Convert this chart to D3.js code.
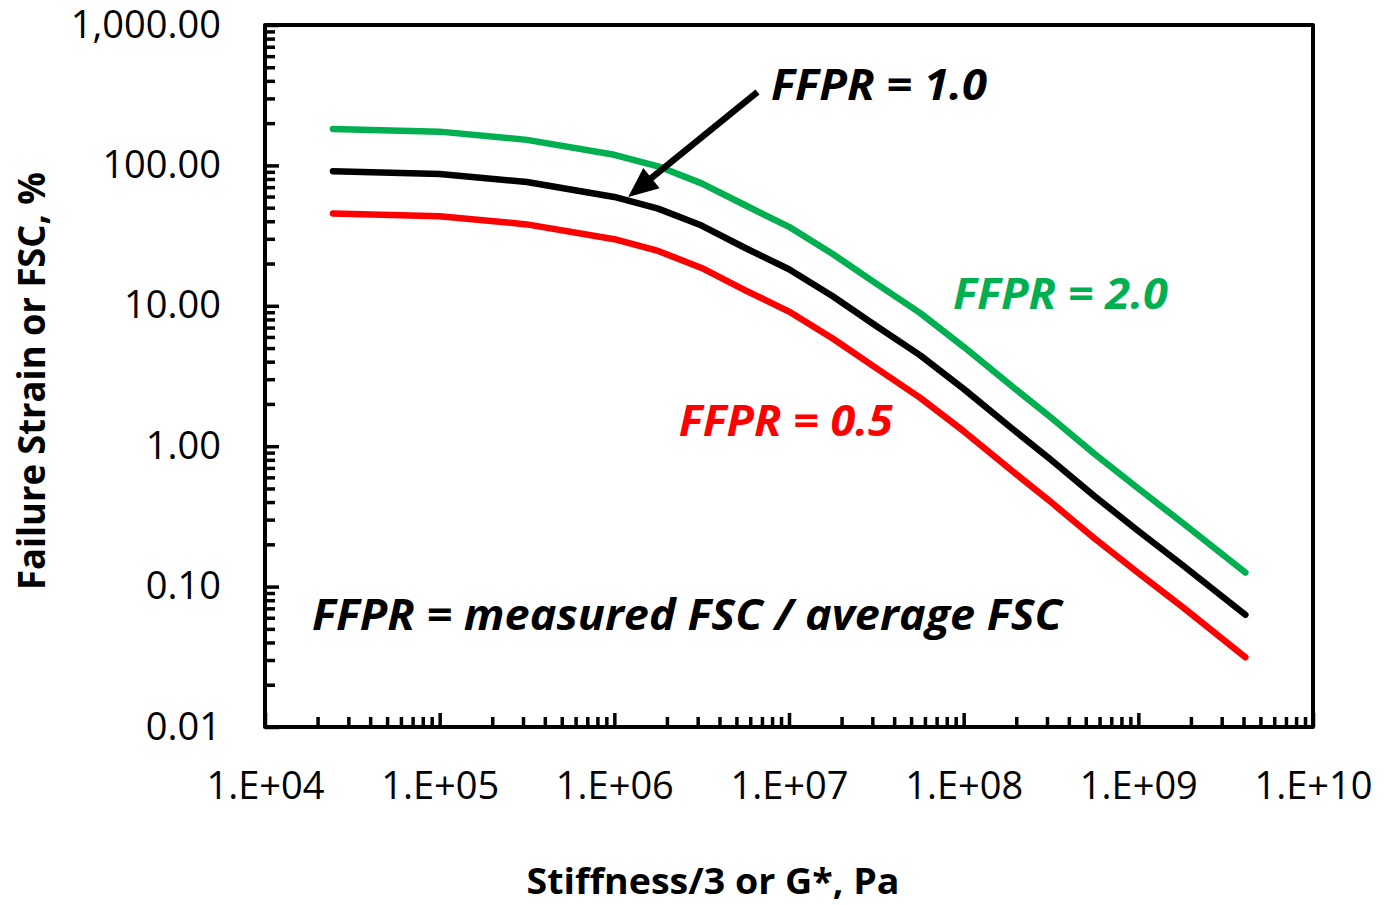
<!DOCTYPE html>
<html>
<head>
<meta charset="utf-8">
<script src="https://cdn.jsdelivr.net/npm/d3@7"></script>
<style>
  html, body { margin: 0; padding: 0; background: #fff; }
  svg { display: block; }
</style>
</head>
<body>
<svg id="chart" width="1384" height="905"></svg>
<script>
// ---- Data ----
const stiffness = [2.45e4, 1e5, 3.16e5, 1e6, 1.78e6, 3.16e6, 5.62e6, 1e7, 1.78e7, 3.16e7, 5.62e7, 1e8, 1.78e8, 3.16e8, 5.62e8, 1e9, 1.78e9, 4.1e9];
const ffpr10 = [91, 86.9, 76.2, 59.6, 49.2, 37.3, 25.8, 18.2, 11.7, 7.18, 4.45, 2.56, 1.42, 0.80, 0.44, 0.249, 0.143, 0.063];
const ffpr20 = [182, 174, 152, 119, 98.5, 74.5, 52, 36.5, 23.4, 14.4, 8.9, 5.1, 2.84, 1.6, 0.88, 0.50, 0.286, 0.126];
const ffpr05 = [45.5, 43.5, 38, 29.8, 24.6, 18.6, 12.9, 9.1, 5.85, 3.6, 2.22, 1.28, 0.71, 0.40, 0.22, 0.125, 0.072, 0.0314];

const xTickValues = [1e4, 1e5, 1e6, 1e7, 1e8, 1e9, 1e10];
const xTickLabels = ["1.E+04", "1.E+05", "1.E+06", "1.E+07", "1.E+08", "1.E+09", "1.E+10"];
const yTickValues = [0.01, 0.1, 1, 10, 100, 1000];
const yTickLabels = ["0.01", "0.10", "1.00", "10.00", "100.00", "1,000.00"];

const seriesNames = ["FFPR = 2.0", "FFPR = 1.0", "FFPR = 0.5"];
const seriesColors = ["#00B050", "#000000", "#FF0000"];

// ---- Layout ----
const W = 1384, H = 905;
const plot = { left: 265, right: 1313, top: 25, bottom: 727 };

const svg = d3.select("#chart");
const x = d3.scaleLog().domain([1e4, 1e10]).range([plot.left, plot.right]);
const y = d3.scaleLog().domain([0.01, 1000]).range([plot.bottom, plot.top]);

const tickFont = "'Open Sans', 'DejaVu Sans', sans-serif";

// minor tick values
function minors(lo, hi) {
  const out = [];
  for (let e = lo; e < hi; e++) {
    for (let m = 2; m <= 9; m++) out.push(m * Math.pow(10, e));
  }
  return out;
}
const xMinor = minors(4, 10);
const yMinor = minors(-2, 3);

// ---- X axis ----
const gx = svg.append("g").attr("transform", `translate(0,${plot.bottom})`);
gx.call(d3.axisBottom(x).tickValues(xMinor).tickSize(-10).tickFormat(""));
gx.call(g => g.select(".domain").remove());
const gx2 = svg.append("g").attr("transform", `translate(0,${plot.bottom})`);
gx2.call(d3.axisBottom(x).tickValues(xTickValues).tickSize(-14).tickPadding(45)
  .tickFormat((d, i) => xTickLabels[i]));
gx2.call(g => g.select(".domain").remove());
gx2.selectAll(".tick text")
  .style("font-family", tickFont).style("font-size", "38px").attr("fill", "#000");

// ---- Y axis ----
const gy = svg.append("g").attr("transform", `translate(${plot.left},0)`);
gy.call(d3.axisLeft(y).tickValues(yMinor).tickSize(-10).tickFormat(""));
gy.call(g => g.select(".domain").remove());
const gy2 = svg.append("g").attr("transform", `translate(${plot.left},0)`);
gy2.call(d3.axisLeft(y).tickValues(yTickValues).tickSize(-14).tickPadding(44)
  .tickFormat((d, i) => yTickLabels[i]));
gy2.call(g => g.select(".domain").remove());
gy2.selectAll(".tick text")
  .style("font-family", tickFont).style("font-size", "38px").attr("fill", "#000");
svg.selectAll("g .tick line").attr("stroke", "#000").attr("stroke-width", 3.5);

// ---- Frame ----
svg.append("rect")
  .attr("x", plot.left).attr("y", plot.top)
  .attr("width", plot.right - plot.left).attr("height", plot.bottom - plot.top)
  .attr("fill", "none").attr("stroke", "#000").attr("stroke-width", 4)
  .attr("stroke-linejoin", "round");

// ---- Lines ----
const line = d3.line().x(d => x(d[0])).y(d => y(d[1]));
const allSeries = [ffpr20, ffpr10, ffpr05];
allSeries.forEach((vals, k) => {
  svg.append("path")
    .datum(stiffness.map((s, i) => [s, vals[i]]))
    .attr("d", line)
    .attr("fill", "none")
    .attr("stroke", seriesColors[k])
    .attr("stroke-width", 6.5)
    .attr("stroke-linecap", "round")
    .attr("stroke-linejoin", "round");
});

// ---- Annotations (positioned in data space) ----
const labels = [
  { text: "FFPR = 1.0", gx: 7.89e6, gy: 292, len: 216, color: "#000" },
  { text: "FFPR = 2.0", gx: 8.69e7, gy: 9.48, len: 215, color: "#00B050" },
  { text: "FFPR = 0.5", gx: 2.34e6, gy: 1.18, len: 214, color: "#FF0000" },
  { text: "FFPR = measured FSC / average FSC", gx: 1.86e4, gy: 0.049, len: 750, color: "#000" }
];
labels.forEach(l => {
  svg.append("text")
    .attr("x", x(l.gx)).attr("y", y(l.gy))
    .attr("textLength", l.len).attr("lengthAdjust", "spacingAndGlyphs")
    .style("font-family", tickFont)
    .style("font-size", "43px").style("font-weight", "700").style("font-style", "italic")
    .attr("fill", l.color)
    .text(l.text);
});

// Arrow
const arrowTail = [6.6e6, 333];
const arrowTip = [1.2e6, 59.6];
const tx = x(arrowTail[0]), ty = y(arrowTail[1]);
const hx = x(arrowTip[0]), hy = y(arrowTip[1]);
const ang = Math.atan2(hy - ty, hx - tx);
const headLen = 30, headHalf = 13;
const bx = hx - headLen * Math.cos(ang), by = hy - headLen * Math.sin(ang);
svg.append("line")
  .attr("x1", tx).attr("y1", ty).attr("x2", bx + 4 * Math.cos(ang)).attr("y2", by + 4 * Math.sin(ang))
  .attr("stroke", "#000").attr("stroke-width", 6.5);
svg.append("polygon")
  .attr("points", [
    [hx, hy],
    [bx + headHalf * Math.sin(ang), by - headHalf * Math.cos(ang)],
    [bx - headHalf * Math.sin(ang), by + headHalf * Math.cos(ang)]
  ].map(p => p.join(",")).join(" "))
  .attr("fill", "#000");

// ---- Axis titles ----
svg.append("text")
  .attr("x", 713).attr("y", 894)
  .attr("text-anchor", "middle")
  .attr("textLength", 373).attr("lengthAdjust", "spacingAndGlyphs")
  .style("font-family", tickFont).style("font-size", "36px").style("font-weight", "700")
  .attr("fill", "#000")
  .text("Stiffness/3 or G*, Pa");

svg.append("text")
  .attr("transform", `translate(45,381) rotate(-90)`)
  .attr("text-anchor", "middle")
  .attr("textLength", 418).attr("lengthAdjust", "spacingAndGlyphs")
  .style("font-family", tickFont).style("font-size", "37px").style("font-weight", "700")
  .attr("fill", "#000")
  .text("Failure Strain or FSC, %");
</script>
</body>
</html>
